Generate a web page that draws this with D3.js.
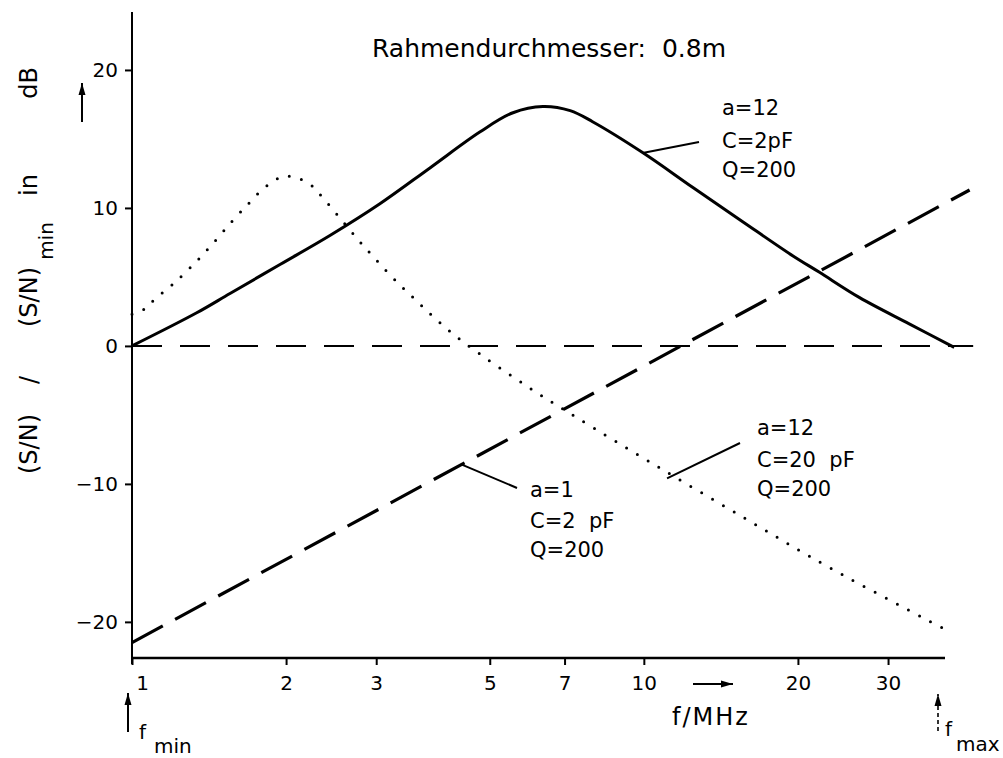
<!DOCTYPE html>
<html>
<head>
<meta charset="utf-8">
<script src="https://cdn.jsdelivr.net/npm/d3@7"></script>
<style>
  body { margin: 0; background: #fff; }
  svg { display: block; font-family: "DejaVu Sans", sans-serif; }
  text { white-space: pre; fill: #000; }
</style>
</head>
<body>
<svg id="chart" width="1003" height="758"></svg>
<script>
// Values: f in MHz, S/N ratio in dB

// a=12, C=2pF, Q=200 (solid)
const solidF = [1, 1.338, 1.554, 1.946, 2.436, 3.05, 3.82, 4.78, 5.55, 6.35, 7.18, 7.94, 9.96, 12.45, 15.6, 19.6, 22.0, 26.4, 33.0, 40.4];
const solidV = [0, 2.4, 3.8, 5.9, 8.0, 10.3, 12.9, 15.5, 16.9, 17.35, 17.05, 16.25, 14.0, 11.5, 9.0, 6.5, 5.35, 3.5, 1.6, -0.1];

// a=12, C=20pF, Q=200 (dotted)
const dottedF = [1, 1.06, 1.109, 1.204, 1.318, 1.43, 1.566, 1.688, 1.82, 1.99, 2.21, 2.365, 2.57, 2.78, 2.98, 3.26, 3.59, 3.99, 4.49, 6.07, 7.4, 10.7, 16.1, 23.4, 40];
const dottedV = [2.3, 2.7, 3.4, 4.5, 5.9, 7.3, 9.0, 10.3, 11.5, 12.3, 11.8, 10.7, 9.1, 7.6, 6.35, 4.8, 3.3, 1.7, 0.15, -3.2, -5.2, -8.8, -12.7, -16.2, -20.8];

// a=1, C=2pF, Q=200 (long dashes)
const dashedF = [1, 43.3];
const dashedV = [-21.5, 11.3];

// 0 dB reference line
const zeroF = [1, 44];
const zeroV = [0, 0];

const xTicks = [1, 2, 3, 5, 7, 10, 20, 30];
const yTicks = [-20, -10, 0, 10, 20];

const svg = d3.select('#chart');
svg.append('rect').attr('width', 1003).attr('height', 758).attr('fill', '#fff');

// arrow head used by the small pointers
svg.append('defs').append('marker')
    .attr('id', 'arrow')
    .attr('viewBox', '0 -4 12 8')
    .attr('refX', 12).attr('refY', 0)
    .attr('markerWidth', 12).attr('markerHeight', 8)
    .attr('markerUnits', 'userSpaceOnUse')
    .attr('orient', 'auto')
    .append('path')
    .attr('d', 'M0,-3.5L12,0L0,3.5Z')
    .attr('fill', '#000');

const x = d3.scaleLog().domain([1, 40]).range([132, 952]);
const y = d3.scaleLinear().domain([-22.4, 24.2]).range([655, 12]);
const xAxisY = 658;

// y axis
const yAxis = svg.append('g')
    .attr('transform', `translate(${x(1)},0)`)
    .call(d3.axisLeft(y).tickValues(yTicks).tickSize(7).tickPadding(7));
yAxis.select('.domain').remove();
yAxis.selectAll('.tick line').attr('stroke-width', 2);
yAxis.selectAll('text').style('font-size', '20px').style('font-family', '"DejaVu Sans", sans-serif');
svg.append('line')
    .attr('x1', x(1)).attr('x2', x(1))
    .attr('y1', 12).attr('y2', 664)
    .attr('stroke', '#000').attr('stroke-width', 2);

// x axis
const xAxis = svg.append('g')
    .attr('transform', `translate(0,${xAxisY})`)
    .call(d3.axisBottom(x).tickValues(xTicks).tickFormat(d3.format('d')).tickSize(7).tickPadding(11));
xAxis.select('.domain').remove();
xAxis.selectAll('.tick line').attr('stroke-width', 2);
xAxis.selectAll('text').style('font-size', '20px').style('font-family', '"DejaVu Sans", sans-serif');
xAxis.selectAll('.tick').filter(d => d === 1).select('text').attr('dx', 10);
svg.append('line')
    .attr('x1', x(1)).attr('x2', 945)
    .attr('y1', xAxisY).attr('y2', xAxisY)
    .attr('stroke', '#000').attr('stroke-width', 2.5);

// curves
const line = d3.line()
    .x(d => x(d[0]))
    .y(d => y(d[1]))
    .curve(d3.curveCatmullRom.alpha(0.5));

function drawSeries(fs, vs, style) {
    return svg.append('path')
        .datum(fs.map((f, i) => [f, vs[i]]))
        .attr('d', line)
        .attr('fill', 'none')
        .attr('stroke', '#000')
        .attr('stroke-width', style.width)
        .attr('stroke-dasharray', style.dash || null)
        .attr('stroke-linecap', style.cap || 'butt');
}

drawSeries(zeroF, zeroV, { width: 2, dash: '30 18' });
drawSeries(dashedF, dashedV, { width: 3.2, dash: '35 14' });
drawSeries(dottedF, dottedV, { width: 3, dash: '0 12.5', cap: 'round' });
drawSeries(solidF, solidV, { width: 3 });

// leader lines: curve anchor (f, v) -> label end point
const leaders = [
    { f: 10, v: 14.0, x2: 699, y2: 142 },
    { f: 4.41, v: -8.6, x2: 517, y2: 488 },
    { f: 11.1, v: -9.6, x2: 740, y2: 443 }
];
svg.selectAll('.leader')
    .data(leaders)
    .enter().append('line')
    .attr('class', 'leader')
    .attr('x1', d => x(d.f)).attr('y1', d => y(d.v))
    .attr('x2', d => d.x2).attr('y2', d => d.y2)
    .attr('stroke', '#000').attr('stroke-width', 2);

// parameter labels
const labels = [
    { x: 722, y: [115, 148, 177], lines: ['a=12', 'C=2pF', 'Q=200'] },
    { x: 530, y: [497, 528, 557], lines: ['a=1', 'C=2  pF', 'Q=200'] },
    { x: 757, y: [435, 467, 496], lines: ['a=12', 'C=20  pF', 'Q=200'] }
];
labels.forEach(lb => {
    lb.lines.forEach((t, i) => {
        svg.append('text')
            .attr('x', lb.x).attr('y', lb.y[i])
            .style('font-size', '21px')
            .text(t);
    });
});

// title
svg.append('text')
    .attr('x', 372).attr('y', 57)
    .style('font-size', '25px')
    .text('Rahmendurchmesser:  0.8m');

// y axis title, rotated, pieces placed along the axis
const yTitle = [
    { t: '(S/N)', c: 444, dx: 0, size: 24 },
    { t: '/', c: 380, dx: 0, size: 24 },
    { t: '(S/N)', c: 297, dx: 0, size: 24 },
    { t: 'min', c: 241, dx: 16, size: 20 },
    { t: 'in', c: 185, dx: 0, size: 24 },
    { t: 'dB', c: 83, dx: 0, size: 24 }
];
yTitle.forEach(p => {
    svg.append('text')
        .attr('transform', `translate(${37 + p.dx},${p.c}) rotate(-90)`)
        .attr('text-anchor', 'middle')
        .style('font-size', p.size + 'px')
        .text(p.t);
});
svg.append('line')
    .attr('x1', 82).attr('y1', 122).attr('x2', 82).attr('y2', 83)
    .attr('stroke', '#000').attr('stroke-width', 2)
    .attr('marker-end', 'url(#arrow)');

// x axis title and arrow
svg.append('text')
    .attr('x', 672).attr('y', 725)
    .style('font-size', '24px')
    .style('letter-spacing', '2px')
    .text('f/MHz');
svg.append('line')
    .attr('x1', 693).attr('y1', 684).attr('x2', 733).attr('y2', 684)
    .attr('stroke', '#000').attr('stroke-width', 2)
    .attr('marker-end', 'url(#arrow)');

// f_min / f_max markers
svg.append('line')
    .attr('x1', 128).attr('y1', 732).attr('x2', 128).attr('y2', 693)
    .attr('stroke', '#000').attr('stroke-width', 2)
    .attr('marker-end', 'url(#arrow)');
svg.append('text').attr('x', 139).attr('y', 739).style('font-size', '20px').text('f');
svg.append('text').attr('x', 154).attr('y', 753).style('font-size', '20px').text('min');

svg.append('line')
    .attr('x1', 938).attr('y1', 731).attr('x2', 938).attr('y2', 694)
    .attr('stroke', '#000').attr('stroke-width', 1.6)
    .attr('stroke-dasharray', '4 3')
    .attr('marker-end', 'url(#arrow)');
svg.append('text').attr('x', 945).attr('y', 736).style('font-size', '20px').text('f');
svg.append('text').attr('x', 956).attr('y', 751).style('font-size', '20px').text('max');
</script>
</body>
</html>
